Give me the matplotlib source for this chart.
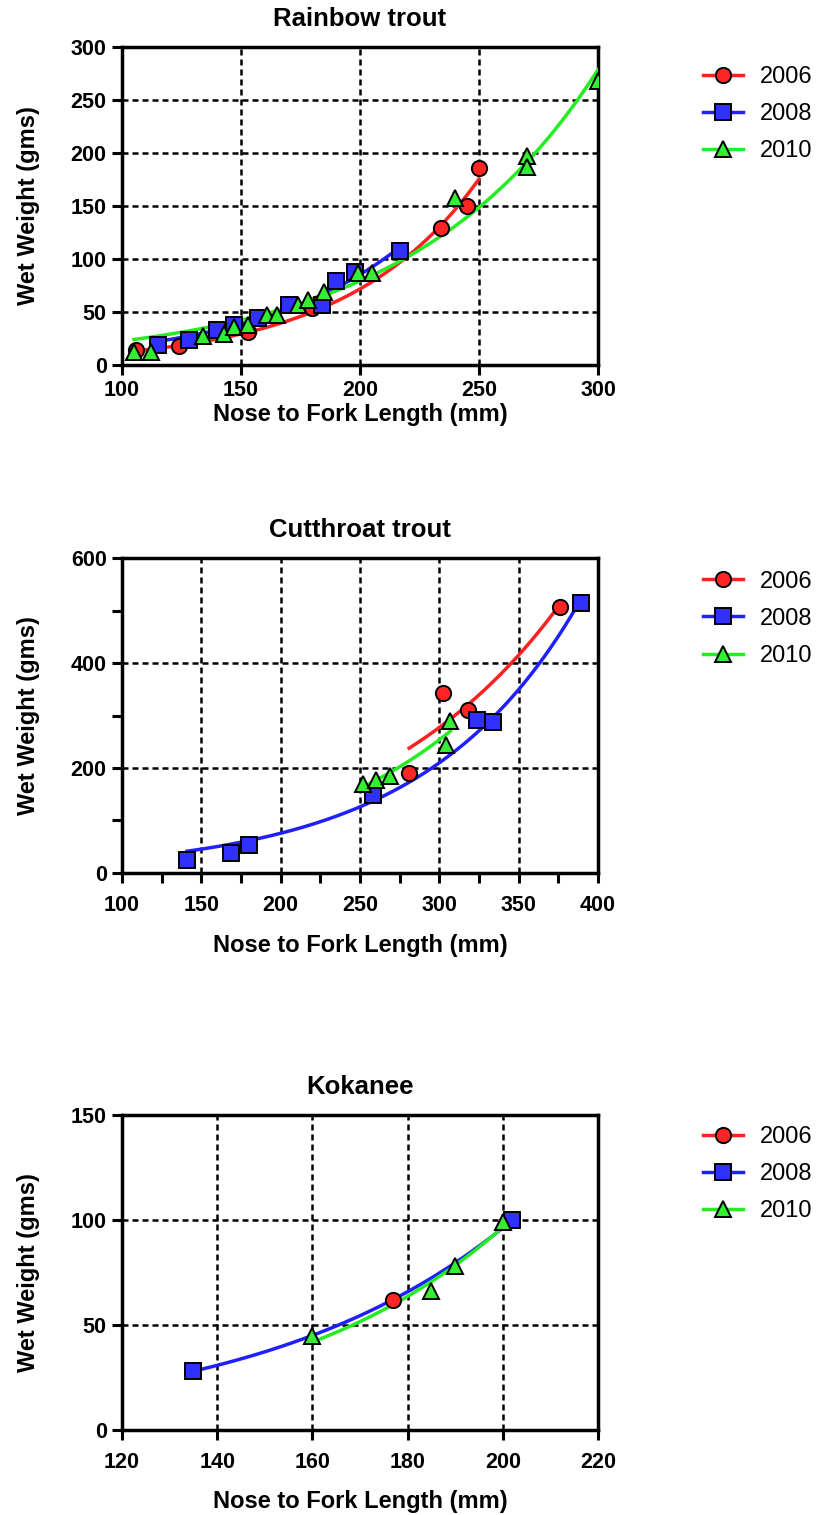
import numpy as np
import matplotlib
matplotlib.use("Agg")
import matplotlib.pyplot as plt
from matplotlib.ticker import MultipleLocator

plt.rcParams['font.family'] = ['Liberation Sans', 'DejaVu Sans']

# ---- Rainbow trout (length mm, weight g) ----
rb_2006_len = [106, 124, 153, 180, 234, 245, 250]
rb_2006_wt = [14, 18, 31, 54, 129, 150, 186]
rb_2008_len = [115, 128, 140, 147, 157, 170, 184, 190, 198, 217]
rb_2008_wt = [19, 24, 33, 38, 44, 57, 57, 79, 88, 108]
rb_2010_len = [105, 112, 134, 143, 147, 153, 161, 165, 174, 178, 185, 199, 205, 240, 270, 270, 300]
rb_2010_wt = [12, 12, 27, 29, 36, 38, 47, 47, 57, 61, 69, 87, 87, 158, 197, 187, 268]

# ---- Cutthroat trout ----
ct_2006_len = [281, 302, 318, 376]
ct_2006_wt = [190, 343, 310, 507]
ct_2008_len = [141, 169, 180, 258, 324, 334, 389]
ct_2008_wt = [25, 38, 53, 149, 292, 288, 514]
ct_2010_len = [252, 260, 269, 304, 307]
ct_2010_wt = [170, 178, 185, 243, 290]

# ---- Kokanee ----
ko_2006_len = [177]
ko_2006_wt = [62]
ko_2008_len = [135, 202]
ko_2008_wt = [28, 100]
ko_2010_len = [160, 185, 190, 200]
ko_2010_wt = [45, 66, 78, 99]

years = ['2006', '2008', '2010']
line_cols = ['#ff2020', '#2020ff', '#22ee22']
face_cols = ['#ff2525', '#3030ff', '#33ee33']
markers = ['o', 's', '^']

panels = [
    dict(title='Rainbow trout', data=[(rb_2006_len, rb_2006_wt), (rb_2008_len, rb_2008_wt), (rb_2010_len, rb_2010_wt)],
         xlim=(100, 300), xmaj=50, xmin=None, ylim=(0, 300), ymaj=50, ymin=None, top=47, bottom=365,
         leg_y=0.97, xpad=4, lpad=1),
    dict(title='Cutthroat trout', data=[(ct_2006_len, ct_2006_wt), (ct_2008_len, ct_2008_wt), (ct_2010_len, ct_2010_wt)],
         xlim=(100, 400), xmaj=50, xmin=25, ylim=(0, 600), ymaj=200, ymin=100, top=558, bottom=873,
         leg_y=0.99, xpad=9, lpad=13),
    dict(title='Kokanee', data=[(ko_2006_len, ko_2006_wt), (ko_2008_len, ko_2008_wt), (ko_2010_len, ko_2010_wt)],
         xlim=(120, 220), xmaj=20, xmin=None, ylim=(0, 150), ymaj=50, ymin=None, top=1115, bottom=1430,
         leg_y=0.995, xpad=9, lpad=12),
]


def exp_fit(x, y):
    # least squares Y = A*exp(k*X) on the raw scale (k scanned, A closed form)
    x = np.asarray(x, float)
    y = np.asarray(y, float)
    best = None
    for k in np.linspace(0.0, 0.06, 6001):
        e = np.exp(k * (x - x.min()))
        A = (y * e).sum() / (e * e).sum()
        sse = ((y - A * e) ** 2).sum()
        if best is None or sse < best[0]:
            best = (sse, A, k)
    return best[1], best[2], x.min()


W, H = 836, 1515
fig = plt.figure(figsize=(W / 100, H / 100), dpi=100)

for p in panels:
    ax = fig.add_axes([122 / W, 1 - p['bottom'] / H, 476 / W, (p['bottom'] - p['top']) / H])
    for (x, y), c in zip(p['data'], line_cols):
        if len(x) < 2:
            continue
        A, k, x0 = exp_fit(x, y)
        xx = np.linspace(min(x), max(x), 200)
        ax.plot(xx, A * np.exp(k * (xx - x0)), color=c, lw=2.5, zorder=3)
    for (x, y), lc, fc, m, yr in zip(p['data'], line_cols, face_cols, markers, years):
        ax.plot(x, y, linestyle='none', marker=m, ms=11, mfc=fc, mec='black', mew=1.4, zorder=4)
        ax.plot([], [], color=lc, lw=2.5, marker=m, ms=11, mfc=fc, mec='black', mew=1.4, label=yr)

    ax.set_xlim(*p['xlim'])
    ax.set_ylim(*p['ylim'])
    ax.xaxis.set_major_locator(MultipleLocator(p['xmaj']))
    ax.yaxis.set_major_locator(MultipleLocator(p['ymaj']))
    if p['xmin']:
        ax.xaxis.set_minor_locator(MultipleLocator(p['xmin']))
    if p['ymin']:
        ax.yaxis.set_minor_locator(MultipleLocator(p['ymin']))
    ax.grid(True, which='major', color='black', lw=1.8, linestyle=(0, (2.4, 1.6)), zorder=1)
    ax.set_axisbelow(True)
    for s in ax.spines.values():
        s.set_linewidth(2.5)
    ax.tick_params(which='major', direction='out', length=7, width=2.2, labelsize=15.5)
    ax.tick_params(which='minor', direction='out', length=7, width=2.2)
    ax.tick_params(axis='x', pad=p['xpad'])
    ax.tick_params(axis='y', pad=4)
    ax.tick_params(top=False, right=False)
    for lab in ax.get_xticklabels() + ax.get_yticklabels():
        lab.set_fontweight('bold')

    ax.set_title(p['title'], fontsize=18.5, fontweight='bold', pad=15)
    ax.set_xlabel('Nose to Fork Length (mm)', fontsize=17, fontweight='bold', labelpad=p['lpad'])
    ax.set_ylabel('Wet Weight (gms)', fontsize=17, fontweight='bold')
    ax.yaxis.set_label_coords(-0.172, 0.5)

    ax.legend(loc='upper left', bbox_to_anchor=(1.2, p['leg_y']), frameon=False, fontsize=17,
              handlelength=1.7, labelspacing=0.64, handletextpad=0.72, borderaxespad=0)

fig.savefig('out.png', dpi=100)
